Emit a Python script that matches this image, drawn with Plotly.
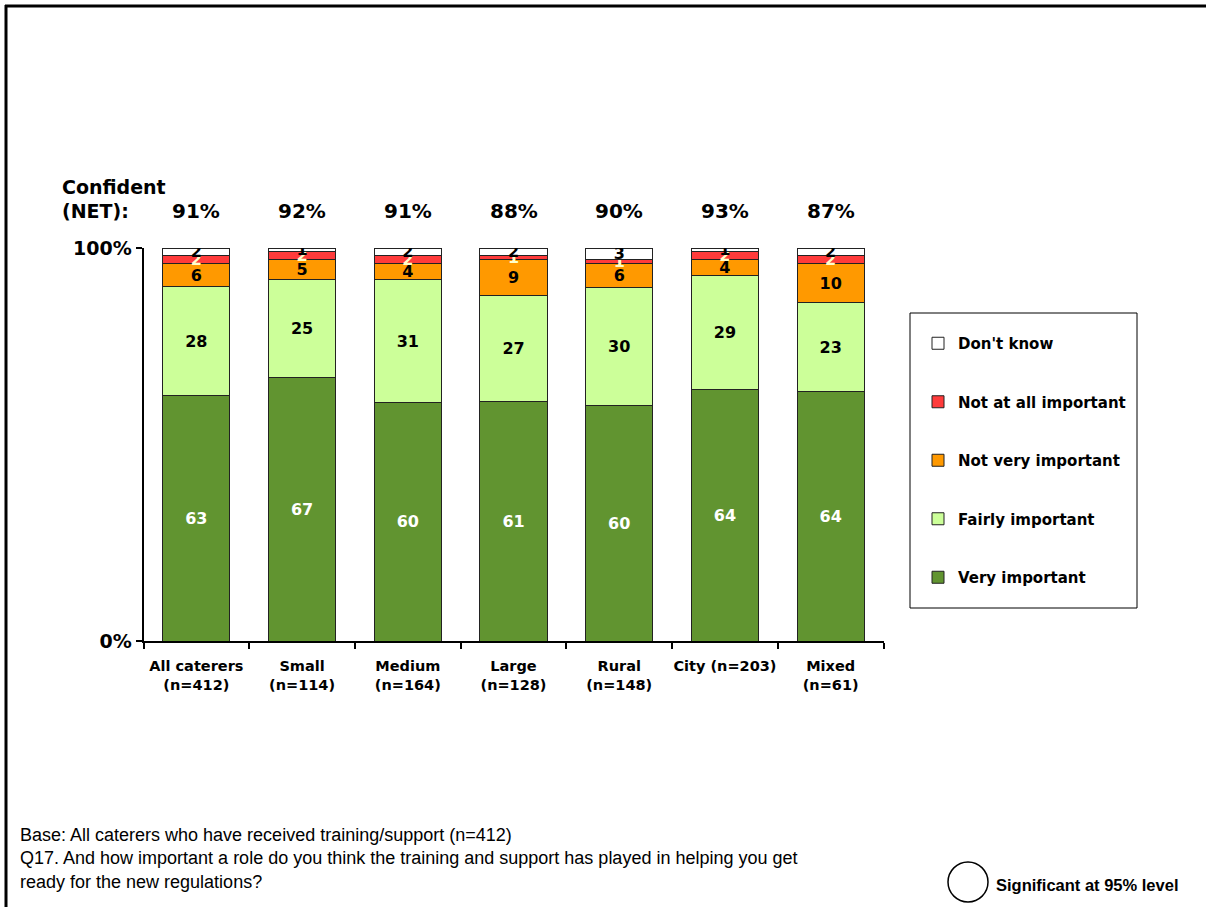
import plotly.graph_objects as go

# Categories (size / location of caterer) and base sizes
categories = [
    "All caterers<br>(n=412)",
    "Small<br>(n=114)",
    "Medium<br>(n=164)",
    "Large<br>(n=128)",
    "Rural<br>(n=148)",
    "City (n=203)",
    "Mixed<br>(n=61)",
]

# Percentages for each answer, per category
very_important = [63, 67, 60, 61, 60, 64, 64]
fairly_important = [28, 25, 31, 27, 30, 29, 23]
not_very_important = [6, 5, 4, 9, 6, 4, 10]
not_at_all_important = [2, 2, 2, 1, 1, 2, 2]
dont_know = [2, 1, 2, 2, 3, 1, 2]

# Confident (NET) = very + fairly important
confident_net = [a + b for a, b in zip(very_important, fairly_important)]

W, H = 1206, 907


def px(x):
    return x / W


def py(y):
    return 1 - y / H


FONT = "DejaVu Sans"
# (name, values, fill, label colour, legend rank: Don't know listed first)
series = [
    ("Very important", very_important, "#619430", "#FFFFFF", 5),
    ("Fairly important", fairly_important, "#CCFF99", "#000000", 4),
    ("Not very important", not_very_important, "#FF9900", "#000000", 3),
    ("Not at all important", not_at_all_important, "#FF3B3B", "#FFFFCC", 2),
    ("Don't know", dont_know, "#FFFFFF", "#000000", 1),
]

fig = go.Figure()
for name, vals, color, tcolor, rank in series:
    fig.add_trace(go.Bar(
        name=name,
        x=categories,
        y=vals,
        legendgroup=name,
        legendrank=rank,
        marker=dict(color=color, line=dict(color="#222222", width=1)),
        text=[str(v) for v in vals],
        textposition="inside",
        insidetextanchor="middle",
        textangle=0,
        constraintext="none",
        textfont=dict(family=FONT, size=16, color=tcolor, weight="bold"),
        hoverinfo="skip",
    ))

annotations = [
    dict(x=px(60), y=py(187), xref="paper", yref="paper", xanchor="left", yanchor="middle",
         text="Confident", showarrow=False,
         font=dict(family=FONT, size=19, color="#000000", weight="bold")),
    dict(x=px(60), y=py(211), xref="paper", yref="paper", xanchor="left", yanchor="middle",
         text="(NET):", showarrow=False,
         font=dict(family=FONT, size=19, color="#000000", weight="bold")),
]
for cat, net in zip(categories, confident_net):
    annotations.append(dict(
        x=cat, y=py(211), xref="x", yref="paper", xanchor="center", yanchor="middle",
        text=f"{net}%", showarrow=False,
        font=dict(family=FONT, size=20, color="#000000", weight="bold")))

footer = ("Base: All caterers who have received training/support (n=412)<br>"
          "Q17. And how important a role do you think the training and support has played in helping you get<br>"
          "ready for the new regulations?")
annotations.append(dict(
    x=px(18), y=py(823), xref="paper", yref="paper", xanchor="left", yanchor="top",
    text=footer, showarrow=False, align="left",
    font=dict(family="Liberation Sans", size=18, color="#000000")))
annotations.append(dict(
    x=px(994), y=py(885), xref="paper", yref="paper", xanchor="left", yanchor="middle",
    text="Significant at 95% level", showarrow=False,
    font=dict(family="Liberation Sans", size=16.5, color="#000000", weight="bold")))

shapes = [
    # frame lines
    dict(type="line", xref="paper", yref="paper", x0=px(5), x1=px(1206), y0=py(6), y1=py(6),
         line=dict(color="#000000", width=3)),
    dict(type="line", xref="paper", yref="paper", x0=px(6), x1=px(6), y0=py(5), y1=py(907),
         line=dict(color="#000000", width=3)),
    # legend box
    dict(type="rect", xref="paper", yref="paper", x0=px(910), x1=px(1137), y0=py(313), y1=py(608),
         line=dict(color="#000000", width=1)),
    # significance marker
    dict(type="circle", xref="paper", yref="paper", x0=px(948), x1=px(988), y0=py(862), y1=py(902),
         line=dict(color="#000000", width=1.5)),
]

fig.update_layout(
    template="none",
    width=W, height=H,
    margin=dict(l=0, r=0, t=0, b=0, pad=0, autoexpand=False),
    paper_bgcolor="#FFFFFF", plot_bgcolor="#FFFFFF",
    barmode="stack", barnorm="percent", bargap=0.366,
    showlegend=True,
    legend=dict(
        x=px(918), y=py(327), xanchor="left", yanchor="top",
        traceorder="grouped", tracegroupgap=36,
        bgcolor="rgba(0,0,0,0)", borderwidth=0,
        font=dict(family=FONT, size=15, color="#000000", weight="bold"),
    ),
    xaxis=dict(
        domain=[px(143.5), px(883.5)],
        type="category",
        automargin=False,
        showline=True, linecolor="#000000", linewidth=2,
        ticks="outside", tickson="boundaries", ticklen=6, tickwidth=2, tickcolor="#000000",
        tickangle=0, ticklabelstandoff=11,
        tickfont=dict(family=FONT, size=14.5, color="#000000", weight="bold"),
        showgrid=False, zeroline=False,
    ),
    yaxis=dict(
        domain=[py(641), py(248)],
        range=[0, 100],
        automargin=False,
        tickvals=[0, 100], ticktext=["0%", "100%"],
        showline=True, linecolor="#000000", linewidth=2,
        ticks="outside", ticklen=6, tickwidth=2, tickcolor="#000000",
        tickfont=dict(family=FONT, size=19, color="#000000", weight="bold"),
        showgrid=False, zeroline=False,
    ),
    annotations=annotations,
    shapes=shapes,
)

fig.write_html("out.html")
